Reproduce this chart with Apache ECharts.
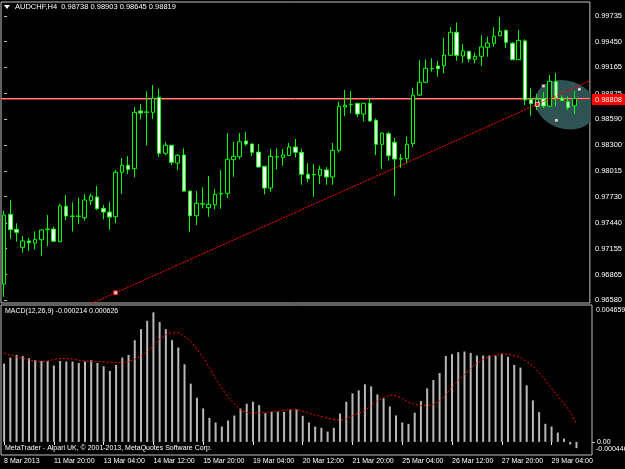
<!DOCTYPE html>
<html>
<head>
<meta charset="utf-8">
<script src="https://cdn.jsdelivr.net/npm/echarts@6/dist/echarts.min.js"></script>
<style>
  html, body { margin: 0; padding: 0; background: #000; }
  #main { width: 625px; height: 469px; }
</style>
</head>
<body>
<div id="main"></div>
<script>
// AUDCHF H4 with MACD(12,26,9), MetaTrader look

var symbolName = 'AUDCHF,H4';

// time axis labels, one every 8 bars
var timeLabels = ['8 Mar 2013', '11 Mar 20:00', '13 Mar 04:00', '14 Mar 12:00', '15 Mar 20:00', '19 Mar 04:00',
  '20 Mar 12:00', '21 Mar 20:00', '25 Mar 04:00', '26 Mar 12:00', '27 Mar 20:00', '29 Mar 04:00'];

// price scale labels (right side)
var priceTicks = [0.96580, 0.96865, 0.97155, 0.97440, 0.97730, 0.98015, 0.98300, 0.98590, 0.98875, 0.99165, 0.99450, 0.99735];

var openP = [0.96760, 0.97534, 0.97367, 0.97168, 0.97238, 0.97215, 0.97252, 0.97367, 0.97371, 0.97230,
  0.97623, 0.97515, 0.97512, 0.97496, 0.97685, 0.97726, 0.97600, 0.97559, 0.97507, 0.98000,
  0.98078, 0.98040, 0.98680, 0.98666, 0.98666, 0.98833, 0.98211, 0.98300, 0.98103, 0.98192,
  0.97792, 0.97518, 0.97648, 0.97607, 0.97640, 0.97763, 0.97767, 0.98140, 0.98173, 0.98348,
  0.98314, 0.98225, 0.98067, 0.97826, 0.98170, 0.98162, 0.98186, 0.98281, 0.98222, 0.97978,
  0.97973, 0.97967, 0.98026, 0.97948, 0.98244, 0.98725, 0.98755, 0.98766, 0.98647, 0.98766,
  0.98577, 0.98311, 0.98429, 0.98333, 0.98151, 0.98151, 0.98318, 0.98858, 0.98999, 0.99150,
  0.99180, 0.99183, 0.99299, 0.99554, 0.99291, 0.99343, 0.99254, 0.99288, 0.99388, 0.99432,
  0.99516, 0.99576, 0.99432, 0.99250, 0.99458, 0.98810, 0.98755, 0.98817, 0.98733, 0.99006,
  0.98825, 0.98784, 0.98738];
var highP = [0.97570, 0.97693, 0.97434, 0.97293, 0.97271, 0.97345, 0.97365, 0.97526, 0.97396, 0.97648,
  0.97748, 0.97667, 0.97718, 0.97756, 0.97763, 0.97848, 0.97637, 0.97670, 0.98026, 0.98159,
  0.98178, 0.98725, 0.98758, 0.98899, 0.98969, 0.98925, 0.98336, 0.98305, 0.98203, 0.98266,
  0.97796, 0.97792, 0.97834, 0.97959, 0.97815, 0.98026, 0.98433, 0.98336, 0.98436, 0.98447,
  0.98318, 0.98314, 0.98070, 0.98259, 0.98266, 0.98259, 0.98325, 0.98370, 0.98262, 0.98100,
  0.98092, 0.98073, 0.98059, 0.98325, 0.98784, 0.98914, 0.98902, 0.98770, 0.98770, 0.98825,
  0.98595, 0.98440, 0.98447, 0.98381, 0.98203, 0.98395, 0.98939, 0.99247, 0.99254, 0.99265,
  0.99235, 0.99491, 0.99610, 0.99661, 0.99424, 0.99347, 0.99328, 0.99521, 0.99505, 0.99610,
  0.99721, 0.99580, 0.99446, 0.99580, 0.99476, 0.98932, 0.98869, 0.98891, 0.99080, 0.99099,
  0.98855, 0.98844, 0.98903];
var lowP = [0.96619, 0.97263, 0.97230, 0.97108, 0.97130, 0.97145, 0.97074, 0.97182, 0.97230, 0.97226,
  0.97467, 0.97345, 0.97426, 0.97463, 0.97637, 0.97582, 0.97478, 0.97363, 0.97434, 0.97763,
  0.97981, 0.97945, 0.98588, 0.98300, 0.98592, 0.98173, 0.98189, 0.98081, 0.98026, 0.97788,
  0.97341, 0.97415, 0.97600, 0.97507, 0.97589, 0.97596, 0.97715, 0.97951, 0.98144, 0.98295,
  0.98181, 0.98055, 0.97756, 0.97785, 0.98033, 0.98073, 0.98182, 0.98167, 0.97862, 0.97892,
  0.97729, 0.97870, 0.97862, 0.97862, 0.98218, 0.98622, 0.98655, 0.98614, 0.98562, 0.98562,
  0.98192, 0.98037, 0.98129, 0.97740, 0.98051, 0.98103, 0.98281, 0.98847, 0.98995, 0.99117,
  0.99061, 0.99099, 0.99295, 0.99239, 0.99217, 0.99221, 0.99210, 0.99180, 0.99283, 0.99394,
  0.99512, 0.99380, 0.99246, 0.99246, 0.98747, 0.98628, 0.98692, 0.98714, 0.98729, 0.98733,
  0.98791, 0.98692, 0.98645];
var closeP = [0.97526, 0.97363, 0.97334, 0.97238, 0.97219, 0.97256, 0.97360, 0.97370, 0.97234, 0.97626,
  0.97515, 0.97512, 0.97515, 0.97693, 0.97737, 0.97596, 0.97559, 0.97504, 0.98000, 0.98078,
  0.98033, 0.98666, 0.98658, 0.98670, 0.98821, 0.98211, 0.98300, 0.98111, 0.98189, 0.97792,
  0.97518, 0.97656, 0.97651, 0.97645, 0.97756, 0.97760, 0.98144, 0.98178, 0.98340, 0.98314,
  0.98222, 0.98059, 0.97826, 0.98178, 0.98173, 0.98192, 0.98281, 0.98222, 0.97978, 0.97929,
  0.97976, 0.98033, 0.97948, 0.98244, 0.98733, 0.98744, 0.98752, 0.98647, 0.98766, 0.98570,
  0.98311, 0.98436, 0.98184, 0.98148, 0.98148, 0.98311, 0.98858, 0.98999, 0.99154, 0.99153,
  0.99150, 0.99302, 0.99554, 0.99299, 0.99347, 0.99258, 0.99288, 0.99391, 0.99435, 0.99510,
  0.99565, 0.99443, 0.99250, 0.99465, 0.98803, 0.98762, 0.98810, 0.98736, 0.99010, 0.98825,
  0.98795, 0.98717, 0.98819];

// MACD main line (histogram) and signal
var macdMain = [0.002666, 0.002871, 0.002960, 0.002916, 0.002847, 0.002779, 0.002755, 0.002755, 0.002598, 0.002755,
  0.002734, 0.002734, 0.002687, 0.002734, 0.002779, 0.002687, 0.002574, 0.002413, 0.002618, 0.002871,
  0.002960, 0.003462, 0.003838, 0.004122, 0.004409, 0.004078, 0.003838, 0.003462, 0.003213, 0.002642,
  0.001982, 0.001504, 0.001138, 0.000820, 0.000660, 0.000523, 0.000728, 0.000899, 0.001138, 0.001299,
  0.001367, 0.001251, 0.000978, 0.001025, 0.001025, 0.001025, 0.001094, 0.001104, 0.000889, 0.000660,
  0.000523, 0.000479, 0.000352, 0.000479, 0.000967, 0.001367, 0.001651, 0.001753, 0.001959, 0.001890,
  0.001617, 0.001480, 0.001207, 0.000899, 0.000660, 0.000615, 0.000991, 0.001388, 0.001822, 0.002105,
  0.002345, 0.002926, 0.002984, 0.003052, 0.003076, 0.003028, 0.002939, 0.002939, 0.002939, 0.002939,
  0.002984, 0.002892, 0.002618, 0.002529, 0.001924, 0.001412, 0.001012, 0.000615, 0.000523, 0.000318,
  0.000113, -0.000090, -0.000214];
var macdSignal = [0.003018, 0.002950, 0.002892, 0.002847, 0.002789, 0.002745, 0.002734, 0.002755, 0.002803, 0.002837,
  0.002837, 0.002813, 0.002779, 0.002755, 0.002734, 0.002734, 0.002721, 0.002710, 0.002700, 0.002700,
  0.002734, 0.002813, 0.002926, 0.003063, 0.003268, 0.003497, 0.003644, 0.003712, 0.003712, 0.003589,
  0.003418, 0.003155, 0.002871, 0.002529, 0.002164, 0.001822, 0.001524, 0.001299, 0.001094, 0.001001,
  0.000978, 0.000991, 0.001001, 0.001025, 0.001046, 0.001080, 0.001104, 0.001114, 0.001046, 0.000978,
  0.000909, 0.000865, 0.000807, 0.000762, 0.000738, 0.000786, 0.000889, 0.000978, 0.001070, 0.001241,
  0.001388, 0.001524, 0.001593, 0.001572, 0.001480, 0.001343, 0.001275, 0.001230, 0.001251, 0.001275,
  0.001388, 0.001617, 0.001866, 0.002095, 0.002300, 0.002505, 0.002687, 0.002813, 0.002892, 0.002939,
  0.003008, 0.002984, 0.002926, 0.002871, 0.002734, 0.002584, 0.002358, 0.002095, 0.001822, 0.001559,
  0.001299, 0.001025, 0.000626];
var macdMax = 0.004659;
var macdMin = -0.000446;

// objects on the chart
var bidPrice = 0.98819;
var hLinePrice = 0.98808;
var trendAnchors = [[18, 0.96664], [86, 0.98755]];
var ellipseHandles = [[87, 0.98958], [89.1, 0.98577], [92.8, 0.98922]];
var ellipseCenter = [90.6, 0.98750];

var FONT = 'Liberation Sans, Arial, sans-serif';

var barCount = openP.length;
var slotCount = barCount + 2; // chart shift
var cats = [];
for (var i = 0; i < slotCount; i++) cats.push(String(i));

var ohlc = [];
for (var i = 0; i < barCount; i++) {
  ohlc.push([openP[i], closeP[i], lowP[i], highP[i]]);
}

// trend line extended across the window (clipped by the grid)
var slope = (trendAnchors[1][1] - trendAnchors[0][1]) / (trendAnchors[1][0] - trendAnchors[0][0]);
var tx0 = -0.5, tx1 = slotCount - 0.5;
var trendLine = [
  [tx0, trendAnchors[0][1] + slope * (tx0 - trendAnchors[0][0])],
  [tx1, trendAnchors[0][1] + slope * (tx1 - trendAnchors[0][0])]
];

function hLine(p) {
  return [[tx0, p], [tx1, p]];
}

var last = barCount - 1;
var header = symbolName + '  ' + openP[last].toFixed(5) + ' ' + highP[last].toFixed(5) + ' ' +
  lowP[last].toFixed(5) + ' ' + closeP[last].toFixed(5);
var macdTitle = 'MACD(12,26,9) ' + macdMain[last].toFixed(6) + ' ' + macdSignal[last].toFixed(6);

var chart = echarts.init(document.getElementById('main'));

var option = {
  backgroundColor: '#000',
  animation: false,
  grid: [
    { left: 1, top: 2, width: 591, height: 301, show: true, borderColor: '#c0c0c0', borderWidth: 1 },
    { left: 1, top: 305, width: 591, height: 150, show: true, borderColor: '#c0c0c0', borderWidth: 1 }
  ],
  xAxis: [
    { type: 'category', gridIndex: 0, data: cats, show: false },
    {
      type: 'category', gridIndex: 1, data: cats,
      axisLine: { show: false },
      axisTick: { show: true, interval: 7, alignWithLabel: true, length: 3, lineStyle: { color: '#fff' } },
      axisLabel: {
        interval: 7, align: 'left', margin: 3, color: '#fff', fontSize: 7, fontFamily: FONT,
        formatter: function (v, idx) { return timeLabels[idx / 8] || ''; }
      }
    },
    { type: 'value', gridIndex: 0, min: -0.5, max: slotCount - 0.5, show: false }
  ],
  yAxis: [
    {
      type: 'value', gridIndex: 0, position: 'right', min: 0.96550, max: 0.99890,
      splitLine: { show: false }, axisLine: { show: false },
      axisTick: { show: true, length: 3, customValues: priceTicks, lineStyle: { color: '#c0c0c0' } },
      axisLabel: {
        customValues: priceTicks, margin: 5, color: '#fff', fontSize: 7.5, fontFamily: FONT,
        formatter: function (v) { return v.toFixed(5); }
      }
    },
    {
      type: 'value', gridIndex: 1, position: 'right', min: macdMin, max: macdMax,
      splitLine: { show: false }, axisLine: { show: false },
      axisTick: { show: true, length: 3, customValues: [0], lineStyle: { color: '#c0c0c0' } },
      axisLabel: {
        customValues: [0], margin: 5, color: '#fff', fontSize: 7, fontFamily: FONT,
        formatter: function () { return '0.00'; }
      }
    }
  ],
  series: [
    {
      type: 'custom', name: 'ellipse', xAxisIndex: 2, yAxisIndex: 0, z: 1, clip: true, silent: true,
      data: [ellipseCenter],
      renderItem: function (params, api) {
        var c = api.coord([api.value(0), api.value(1)]);
        return {
          type: 'circle', x: c[0], y: c[1], scaleX: 1.3, rotation: -0.3,
          shape: { cx: 0, cy: 0, r: 24 },
          style: { fill: '#2f5353' }
        };
      }
    },
    {
      type: 'line', name: 'bid', xAxisIndex: 2, yAxisIndex: 0, z: 2, data: hLine(bidPrice), symbol: 'none',
      lineStyle: { color: '#a8a8a8', width: 1 }, silent: true
    },
    {
      type: 'line', name: 'hline', xAxisIndex: 2, yAxisIndex: 0, z: 2, data: hLine(hLinePrice), symbol: 'none',
      lineStyle: { color: '#ff0000', width: 1 }, silent: true, clip: false,
      endLabel: {
        show: true, distance: 2, formatter: hLinePrice.toFixed(5),
        backgroundColor: '#ff0000', color: '#fff', padding: [2, 3, 1, 3],
        fontSize: 7.5, fontFamily: FONT
      }
    },
    {
      type: 'candlestick', xAxisIndex: 0, yAxisIndex: 0, z: 3,
      barWidth: 4,
      data: ohlc,
      itemStyle: {
        color: '#000', color0: '#fff',
        borderColor: '#00ff00', borderColor0: '#00ff00', borderWidth: 1
      }
    },
    {
      type: 'line', name: 'trend', xAxisIndex: 2, yAxisIndex: 0, z: 4, data: trendLine, symbol: 'none',
      lineStyle: { color: '#ff0000', width: 1, type: [2, 1] }, silent: true
    },
    {
      type: 'scatter', xAxisIndex: 2, yAxisIndex: 0, z: 5, symbol: 'rect', symbolSize: 4, silent: true,
      data: [
        { value: trendAnchors[0], itemStyle: { color: '#fff', borderColor: '#ff0000', borderWidth: 1 } },
        { value: trendAnchors[1], itemStyle: { color: '#ff0000', borderColor: '#fff', borderWidth: 1 } }
      ]
    },
    {
      type: 'scatter', xAxisIndex: 2, yAxisIndex: 0, z: 5, symbol: 'rect', symbolSize: 3.5, silent: true,
      data: ellipseHandles,
      itemStyle: { color: '#fff', borderColor: '#000', borderWidth: 0.5 }
    },
    {
      type: 'bar', xAxisIndex: 1, yAxisIndex: 1, data: macdMain, barWidth: 2,
      itemStyle: { color: '#b8b8b8' }, silent: true
    },
    {
      type: 'line', xAxisIndex: 1, yAxisIndex: 1, data: macdSignal, symbol: 'none', z: 4,
      lineStyle: { color: '#ff0000', width: 1, type: [2, 2] }, silent: true
    }
  ],
  graphic: [
    { type: 'polygon', shape: { points: [[4, 5], [10, 5], [7, 9]] }, style: { fill: '#fff' } },
    { type: 'text', x: 15, y: 3, style: { text: header, fill: '#fff', fontSize: 7.5, fontFamily: FONT } },
    { type: 'text', x: 5, y: 308, style: { text: macdTitle, fill: '#fff', fontSize: 7, fontFamily: FONT } },
    { type: 'text', x: 5, y: 445, style: { text: 'MetaTrader - Alpari UK, \u00a9 2001-2013, MetaQuotes Software Corp.', fill: '#fff', fontSize: 7, fontFamily: FONT } },
    { type: 'text', x: 596, y: 307, style: { text: macdMax.toFixed(6), fill: '#fff', fontSize: 7, fontFamily: FONT } },
    { type: 'text', x: 596, y: 446, style: { text: macdMin.toFixed(6), fill: '#fff', fontSize: 7, fontFamily: FONT } }
  ]
};

chart.setOption(option);
</script>
</body>
</html>
